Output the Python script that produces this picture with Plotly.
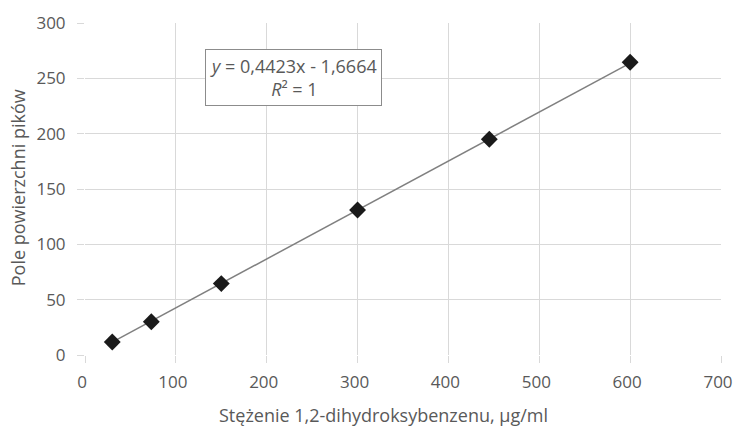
import plotly.graph_objects as go

conc = [30, 73, 150, 300, 445, 600]
area = [11.7, 30.0, 64.5, 131.0, 195.0, 264.5]
slope = 0.4423
intercept = -1.6664
x_ticks = [0, 100, 200, 300, 400, 500, 600, 700]
y_ticks = [0, 50, 100, 150, 200, 250, 300]

fit_x = [min(conc), max(conc)]
fit_y = [slope * v + intercept for v in fit_x]

fig = go.Figure()
fig.add_trace(go.Scatter(x=fit_x, y=fit_y, mode="lines",
                         line=dict(color="#808080", width=1.5), showlegend=False, hoverinfo="skip"))
fig.add_trace(go.Scatter(x=conc, y=area, mode="markers",
                         marker=dict(symbol="diamond", size=13, color="#1a1a1a"), showlegend=False))

font_fam = "Open Sans, Liberation Sans, sans-serif"
grey = "#595959"
fig.update_layout(
    width=736, height=426,
    margin=dict(l=85, r=15, t=23, b=71, autoexpand=False),
    plot_bgcolor="white", paper_bgcolor="white",
    font=dict(family=font_fam, color=grey, size=15),
    xaxis=dict(range=[0, 700], tickvals=x_ticks, showgrid=True, gridcolor="#d9d9d9", gridwidth=1,
               zeroline=False, showline=False, ticks="outside", ticklen=7, tickcolor="#d9d9d9",
               tickfont=dict(size=17, color=grey), ticklabelstandoff=5, ticklabelshift=-3,
               automargin=False),
    yaxis=dict(range=[0, 300], tickvals=y_ticks, showgrid=True, gridcolor="#d9d9d9", gridwidth=1,
               zeroline=False, showline=False, ticks="outside", ticklen=7, tickcolor="#d9d9d9",
               tickfont=dict(size=17, color=grey), ticklabelstandoff=8, automargin=False),
)
fig.add_annotation(x=0.470, y=-0.181, xref="paper", yref="paper", showarrow=False,
                   text="Stężenie 1,2-dihydroksybenzenu, µg/ml", font=dict(size=18, color=grey),
                   xanchor="center", yanchor="middle")
fig.add_annotation(x=-0.105, y=0.503, xref="paper", yref="paper", showarrow=False,
                   text="Pole powierzchni pików", font=dict(size=18, color=grey), textangle=-90,
                   xanchor="center", yanchor="middle")
fig.add_annotation(x=230, y=251, xref="x", yref="y", showarrow=False,
                   text="<i>y</i> = 0,4423x - 1,6664<br><i>R</i>² = 1",
                   font=dict(size=18, color=grey, family=font_fam),
                   bordercolor="#8c8c8c", borderwidth=1, borderpad=4, bgcolor="white", align="center")
fig.write_html("out.html", config={"displayModeBar": False},
               post_script="document.body.style.margin='0';document.body.style.overflow='hidden';")
